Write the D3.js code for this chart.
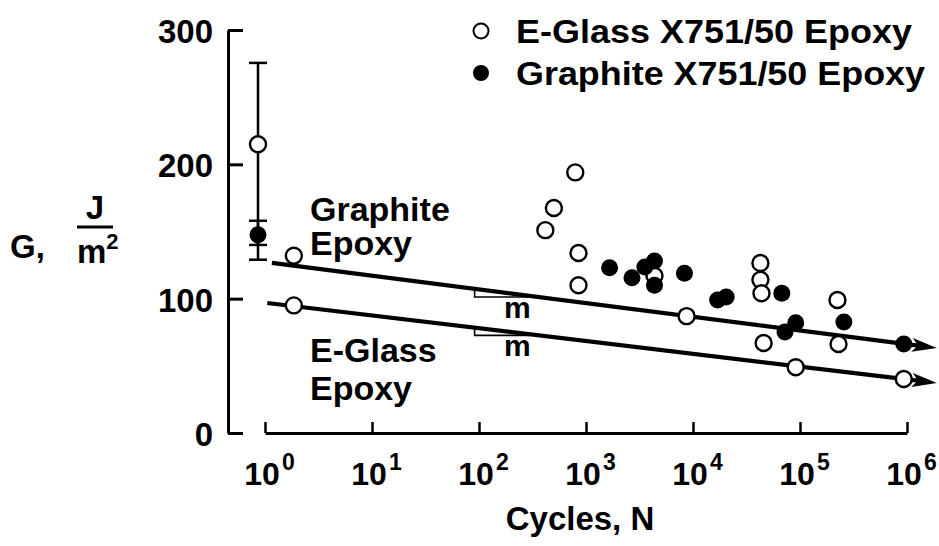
<!DOCTYPE html>
<html>
<head>
<meta charset="utf-8">
<script src="https://cdn.jsdelivr.net/npm/d3@7"></script>
<style>
  html, body { margin: 0; padding: 0; background: #fff; }
  svg { display: block; }
  text { font-family: "Liberation Sans", Arial, Helvetica, sans-serif; font-weight: bold; fill: #000; }
</style>
</head>
<body>
<svg id="chart" width="939" height="546"></svg>
<script>
// ---------------- data ----------------
const xTickValues = [1, 10, 100, 1000, 10000, 100000, 1000000];
const xTickExponents = ["0", "1", "2", "3", "4", "5", "6"];
const yTickValues = [0, 100, 200, 300];
const yTickLabels = ["0", "100", "200", "300"];

// E-Glass X751/50 Epoxy (open circles)
const eglassN = [0.86, 1.86, 1.86, 794, 501, 417, 851, 851, 4365, 8710, 42660, 42660, 43650, 45710, 91200, 223900, 229100, 933000];
const eglassG = [215, 132, 95, 194, 167.5, 151, 134, 110, 117, 87, 126.5, 114, 104, 67, 49, 99, 66.3, 40.2];

// Graphite X751/50 Epoxy (filled circles)
const graphiteN = [0.86, 1660, 2690, 3550, 4365, 4365, 8320, 16980, 20420, 67600, 72440, 91200, 257000, 933000];
const graphiteG = [147.5, 123, 115.5, 123.5, 128, 110, 119, 99, 101.3, 104, 75.2, 82, 82.7, 66.3];

// error bars at first cycle
const errorN = [0.86, 0.86];
const errorLow = [129, 140];
const errorHigh = [275.5, 158];

// fitted trend lines  G = a + b*log10(N)
const lineNames = ["Graphite", "E-Glass"];
const lineA = [127.3, 97.0];
const lineB = [-10.21, -9.51];
const lineStartN = [1.16, 1.05];
const lineEndN = [1.9e6, 1.9e6];
const slopeTriN = [[91, 300], [91, 300]];

const legendLabels = ["E-Glass X751/50 Epoxy", "Graphite X751/50 Epoxy"];

// ---------------- chart ----------------
const svg = d3.select("#chart");
const x = d3.scaleLog().domain([1, 1e6]).range([265, 907]);
const y = d3.scaleLinear().domain([0, 300]).range([433, 30]);

// Y axis
const yAxis = d3.axisLeft(y).tickValues(yTickValues)
  .tickFormat((d, i) => yTickLabels[i]).tickSizeInner(-15).tickSizeOuter(0).tickPadding(15);
const yg = svg.append("g").attr("transform", "translate(228,0)").call(yAxis);
yg.select(".domain").attr("stroke", "#000").attr("stroke-width", 3);
yg.selectAll(".tick line").attr("stroke", "#000").attr("stroke-width", 3);
yg.selectAll(".tick text").attr("font-size", 33).attr("font-family", "Liberation Sans, Arial, sans-serif")
  .attr("font-weight", "bold").attr("dy", "0.38em");

// X axis
const xAxis = d3.axisBottom(x).tickValues(xTickValues).tickFormat("").tickSizeInner(-11).tickSizeOuter(0);
const xg = svg.append("g").attr("transform", "translate(0,433)").call(xAxis);
xg.select(".domain").attr("stroke", "#000").attr("stroke-width", 3);
xg.selectAll(".tick line").attr("stroke", "#000").attr("stroke-width", 2.5);
xg.selectAll(".tick").each(function(d, i) {
  const t = d3.select(this).append("text")
    .attr("y", 52).attr("x", 4).attr("text-anchor", "middle").attr("font-size", 32);
  t.append("tspan").text("10");
  t.append("tspan").attr("dx", 2).attr("dy", -15).attr("font-size", 23).text(xTickExponents[i]);
});

// axis titles
svg.append("text").attr("x", 580).attr("y", 530).attr("text-anchor", "middle")
  .attr("font-size", 33).text("Cycles, N");
svg.append("text").attr("x", 10).attr("y", 258).attr("font-size", 33).text("G,");
svg.append("text").attr("x", 95).attr("y", 219).attr("text-anchor", "middle").attr("font-size", 33).text("J");
svg.append("line").attr("x1", 77).attr("x2", 113).attr("y1", 227).attr("y2", 227)
  .attr("stroke", "#000").attr("stroke-width", 3);
const mt = svg.append("text").attr("x", 77).attr("y", 263).attr("font-size", 33);
mt.append("tspan").text("m");
mt.append("tspan").attr("dy", -14).attr("font-size", 22).text("2");

// trend lines with arrows
const lg = svg.append("g");
lineA.forEach((a, i) => {
  const g = n => a + lineB[i] * Math.log10(n);
  const x0 = x(lineStartN[i]), y0 = y(g(lineStartN[i]));
  const xt = x(lineEndN[i]), yt = y(g(lineEndN[i]));
  const ang = Math.atan2(yt - y0, xt - x0);
  const L = 25, W = 7, notch = 6;
  const ux = Math.cos(ang), uy = Math.sin(ang);
  const bx = xt - L * ux, by = yt - L * uy;
  lg.append("line").attr("x1", x0).attr("y1", y0)
    .attr("x2", xt - 15 * ux).attr("y2", yt - 15 * uy)
    .attr("stroke", "#000").attr("stroke-width", 4.2);
  lg.append("path").attr("d",
    `M${xt},${yt} L${bx - W * uy},${by + W * ux} L${bx + notch * ux},${by + notch * uy} L${bx + W * uy},${by - W * ux} Z`)
    .attr("fill", "#000");
  // slope triangle
  const [na, nb] = slopeTriN[i];
  const xa = x(na), ya = y(g(na)), xb = x(nb), yb = y(g(nb));
  lg.append("path").attr("d", `M${xa},${ya} L${xa},${yb + 1} L${xb},${yb + 1}`)
    .attr("fill", "none").attr("stroke", "#000").attr("stroke-width", 1.6);
  lg.append("text").attr("x", (xa + xb) / 2 + 15).attr("y", yb + 22).attr("text-anchor", "middle")
    .attr("font-size", 30).text("m");
});

// in-plot labels
svg.append("text").attr("x", 310).attr("y", 221).attr("font-size", 34).text("Graphite");
svg.append("text").attr("x", 310).attr("y", 255).attr("font-size", 34).text("Epoxy");
svg.append("text").attr("x", 310).attr("y", 362).attr("font-size", 34).text("E-Glass");
svg.append("text").attr("x", 310).attr("y", 400).attr("font-size", 34).text("Epoxy");

// error bars
const eg = svg.append("g").attr("stroke", "#000").attr("stroke-width", 2.5);
errorN.forEach((n, i) => {
  const cx = x(n);
  eg.append("line").attr("x1", cx).attr("x2", cx).attr("y1", y(errorLow[i])).attr("y2", y(errorHigh[i]));
  [errorLow[i], errorHigh[i]].forEach(v => {
    eg.append("line").attr("x1", cx - 9).attr("x2", cx + 9).attr("y1", y(v)).attr("y2", y(v));
  });
});

// points
svg.append("g").selectAll("circle").data(eglassN.map((n, i) => [n, eglassG[i]])).join("circle")
  .attr("cx", d => x(d[0])).attr("cy", d => y(d[1])).attr("r", 8)
  .attr("fill", "#fff").attr("stroke", "#000").attr("stroke-width", 2.4);
svg.append("g").selectAll("circle").data(graphiteN.map((n, i) => [n, graphiteG[i]])).join("circle")
  .attr("cx", d => x(d[0])).attr("cy", d => y(d[1])).attr("r", 8.5)
  .attr("fill", "#000");

// legend
const leg = svg.append("g");
leg.append("circle").attr("cx", 481).attr("cy", 31).attr("r", 7.5)
  .attr("fill", "#fff").attr("stroke", "#000").attr("stroke-width", 2);
leg.append("circle").attr("cx", 481).attr("cy", 73).attr("r", 8).attr("fill", "#000");
leg.append("text").attr("x", 516).attr("y", 43).attr("font-size", 33)
  .attr("textLength", 396).attr("lengthAdjust", "spacingAndGlyphs").text(legendLabels[0]);
leg.append("text").attr("x", 516).attr("y", 85).attr("font-size", 33)
  .attr("textLength", 409).attr("lengthAdjust", "spacingAndGlyphs").text(legendLabels[1]);
</script>
</body>
</html>
